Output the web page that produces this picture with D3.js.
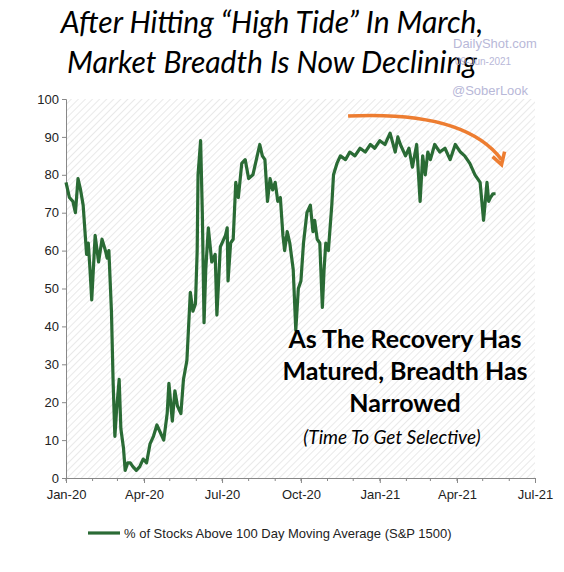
<!DOCTYPE html>
<html><head><meta charset="utf-8">
<script src="https://cdn.jsdelivr.net/npm/d3@7"></script>
<style>body{margin:0;background:#fff}svg{font-family:Lato,"Open Sans",sans-serif}</style>
</head><body>
<svg id="c" width="564" height="572"></svg>
<script>
// days since 1 Jan 2020, and % of stocks above 100-day MA
var dayOffsets = [0,4,8,11,14,17,20,24,26,28,30,34,38,42,46,48,50,53,55,57,59,62,64,67,69,72,75,78,82,86,90,94,98,102,106,110,114,118,120,124,127,130,134,137,141,145,148,151,153,154,157,159,161,163,166,170,174,176,180,186,188,189,192,195,198,201,205,209,213,218,223,226,229,232,235,238,241,244,247,250,253,255,258,261,265,268,271,274,277,281,285,288,290,293,296,299,301,303,306,308,310,312,316,320,326,331,337,343,349,355,360,366,372,378,384,387,390,396,400,404,409,413,416,419,422,425,430,436,442,448,454,460,465,471,477,483,487,491,493,495,498,501,503,506];
var pctAbove = [78,74,73,70,79,76,72,59,62,55,47,64,57,63,60,58,60,44,25,11,18,26,13,8,2,4,4,3,2,3,5,4,9,11,14,12,10,17,25,15,23,19,17,26,31,49,44,46,60,80,89,70,41,55,66,57,59,43,61,64,66,52,62,63,78,74,83,84,79,80,85,88,85,84,73,79,76,78,73,74,64,60,65,62,55,39,50,52,62,70,72,65,68,63,62,45,55,62,60,66,72,80,83,85,84,86,85,87,86,88,87,89,88,91,86,90,88,85,87,82,88,73,85,80,86,84,88,86,87,84,88,86,85,83,80,78,68,78,73,74,75,75];
var yTicks = [0,10,20,30,40,50,60,70,80,90,100];
var xTickLabels = ["Jan-20","Apr-20","Jul-20","Oct-20","Jan-21","Apr-21","Jul-21"];
var xTickDates = ["2020-01-01","2020-04-01","2020-07-01","2020-10-01","2021-01-01","2021-04-01","2021-07-01"];

var base = new Date(2020,0,1);
var data = dayOffsets.map(function(d,i){ return {date:d3.timeDay.offset(base,d), v:pctAbove[i]}; });
var parse = d3.timeParse("%Y-%m-%d");

var svg = d3.select("#c");
var L=66,R=535,T=99,B=478;
var x = d3.scaleTime().domain([parse(xTickDates[0]),parse(xTickDates[6])]).range([L,R]);
var y = d3.scaleLinear().domain([0,100]).range([B,T]);

// hatched background
var pat = svg.append("defs").append("pattern").attr("id","h").attr("patternUnits","userSpaceOnUse")
  .attr("width",5).attr("height",5).attr("patternTransform","rotate(45)");
pat.append("line").attr("x1",0).attr("y1",0).attr("x2",0).attr("y2",5).attr("stroke","#e2e2e2").attr("stroke-width",1.5);
svg.append("rect").attr("x",L).attr("y",T).attr("width",R-L).attr("height",B-T).attr("fill","url(#h)");

// axes
var ya = svg.append("g").attr("transform","translate("+L+",0)")
  .call(d3.axisLeft(y).tickValues(yTicks).tickSize(4));
ya.select(".domain").attr("stroke","#888");
ya.selectAll("line").attr("stroke","#888");
ya.selectAll("text").attr("font-size",13).attr("fill","#222");
var xa = svg.append("g").attr("transform","translate(0,"+B+")")
  .call(d3.axisBottom(x).tickValues(xTickDates.map(parse)).tickFormat(function(d,i){return xTickLabels[i];}).tickSize(5));
xa.select(".domain").attr("stroke","#888");
xa.selectAll("line").attr("stroke","#888");
xa.selectAll("text").attr("font-size",13).attr("fill","#222").attr("dy","1em");
// minor ticks
svg.append("g").selectAll("line").data(d3.timeMonth.range(x.domain()[0],x.domain()[1])).join("line")
  .attr("x1",function(d){return x(d);}).attr("x2",function(d){return x(d);})
  .attr("y1",B).attr("y2",B+3).attr("stroke","#888");

// line
svg.append("path").datum(data).attr("fill","none").attr("stroke","#2a6b35").attr("stroke-width",3.2)
  .attr("stroke-linejoin","round")
  .attr("d",d3.line().x(function(d){return x(d.date);}).y(function(d){return y(d.v);}));

// orange arrow
var a0=[x(d3.timeDay.offset(base,329)),y(95.5)], a1=[x(d3.timeDay.offset(base,465)),y(97)], a2=[x(d3.timeDay.offset(base,508)),y(84)];
svg.append("path").attr("d","M"+a0+" Q"+a1+" "+a2).attr("fill","none").attr("stroke","#ed7d31").attr("stroke-width",3.5);
svg.append("path").attr("d","M"+(a2[0]-9)+","+(a2[1]-3)+" L"+a2[0]+","+(a2[1]+5)+" L"+(a2[0]+3)+","+(a2[1]-8))
  .attr("fill","none").attr("stroke","#ed7d31").attr("stroke-width",3.5);

// title
var title = svg.append("g").attr("font-style","italic").attr("font-size",30).attr("text-anchor","middle").attr("fill","#000");
title.append("text").attr("x",272).attr("y",33).text("After Hitting \u201cHigh Tide\u201d In March,");
title.append("text").attr("x",272).attr("y",73).text("Market Breadth Is Now Declining");

// watermark
var wm = svg.append("g").attr("fill","#b8b8d8").attr("font-family","Liberation Sans,Arial");
wm.append("text").attr("x",453).attr("y",48).attr("font-size",13).text("DailyShot.com");
wm.append("text").attr("x",455).attr("y",65).attr("font-size",10).text("09-Jun-2021");
wm.append("text").attr("x",452).attr("y",95).attr("font-size",13).text("@SoberLook");

// annotation
var an = svg.append("g").attr("text-anchor","middle").attr("fill","#000");
[["As The Recovery Has",348],["Matured, Breadth Has",380],["Narrowed",412]].forEach(function(t){
  an.append("text").attr("x",405).attr("y",t[1]).attr("font-size",25).attr("font-weight","bold").text(t[0]);
});
an.append("text").attr("x",392).attr("y",444).attr("font-size",19).attr("font-style","italic").text("(Time To Get Selective)");

// legend
svg.append("line").attr("x1",88).attr("x2",120).attr("y1",533).attr("y2",533).attr("stroke","#2a6b35").attr("stroke-width",3.2);
svg.append("text").attr("x",124).attr("y",538).attr("font-size",13).attr("font-family","Liberation Sans,Arial").attr("fill","#222")
  .text("% of Stocks Above 100 Day Moving Average (S&P 1500)");
</script>
</body></html>
